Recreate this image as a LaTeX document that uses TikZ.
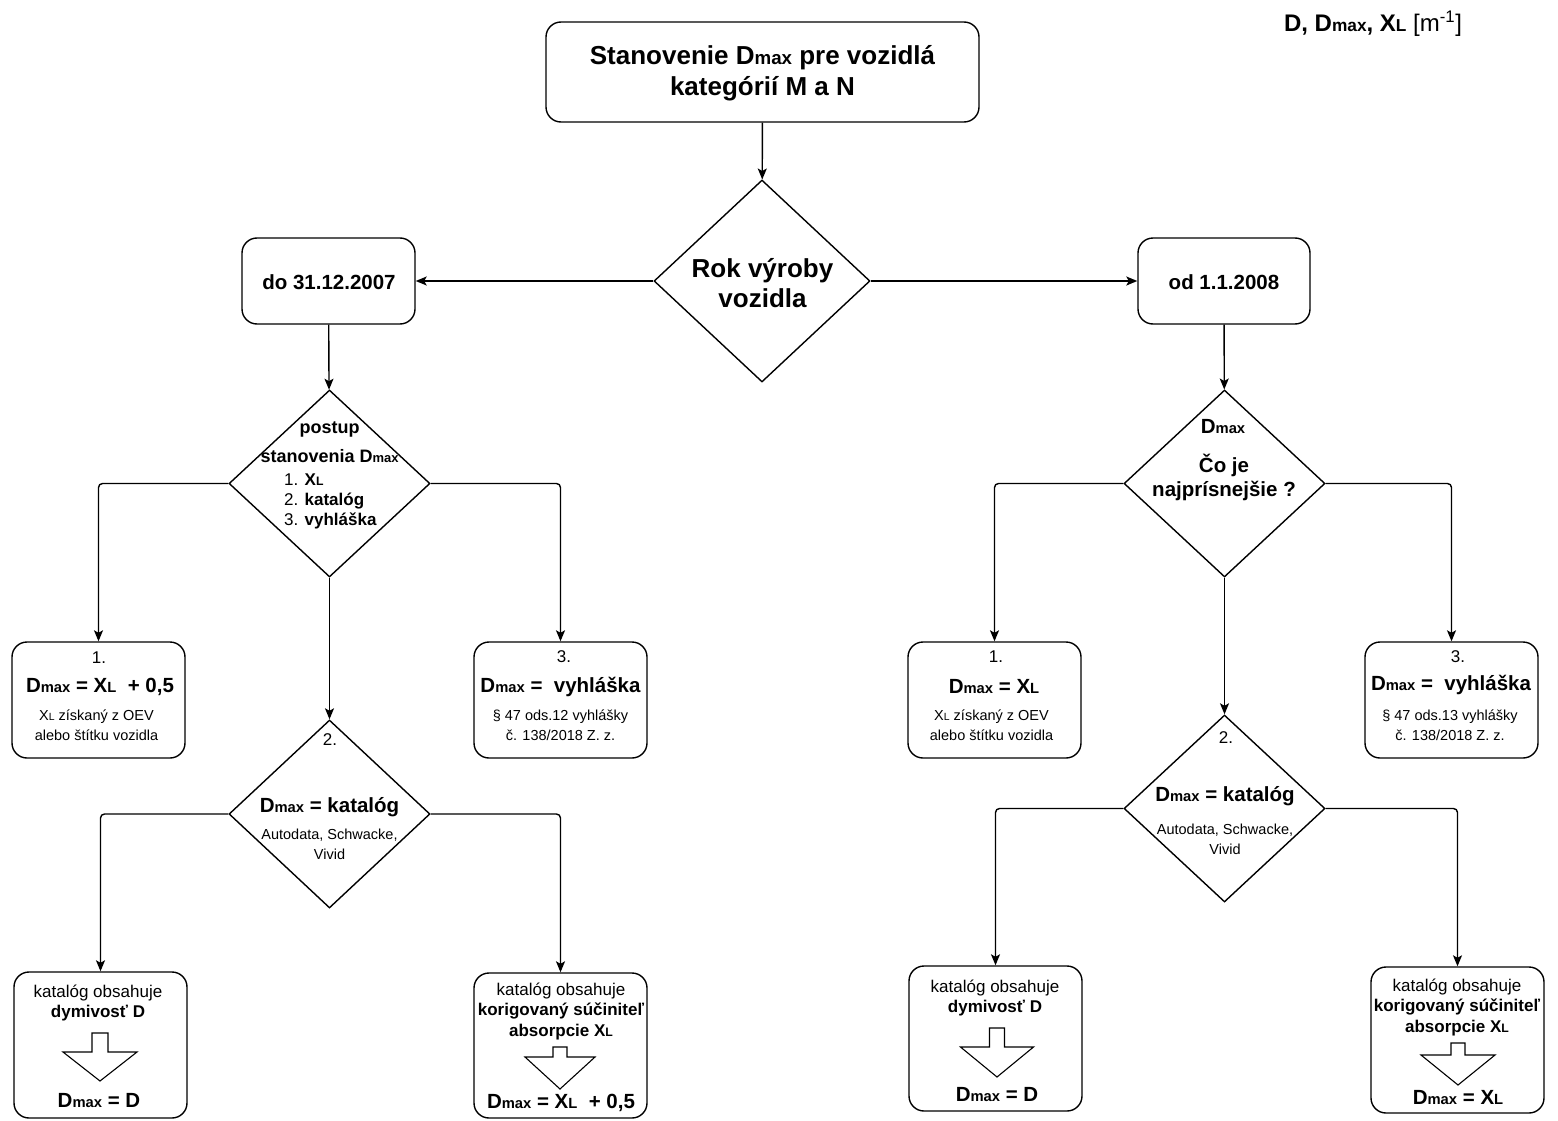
\documentclass[tikz,border=0pt]{standalone}
\usepackage{fontspec}
\setmainfont{Liberation Sans}
\usepackage{graphicx}
\usetikzlibrary{arrows.meta,positioning,shapes.geometric}
\newcommand{\Dmax}{D\scalebox{0.72}{max}}
\newcommand{\XL}{X\scalebox{0.72}{L}}
\begin{document}
\begin{tikzpicture}[
    x=1pt,y=-1pt,
    box/.style={draw=black,line width=1.4pt,rounded corners=15pt,minimum width=173pt,minimum height=116pt},
    dec/.style={draw=black,line width=1.4pt,diamond,inner sep=0pt,minimum width=201pt,minimum height=187pt},
    txt/.style={inner sep=0pt,align=center},
    arrow/.style={-{Stealth[length=11pt,width=9pt,inset=2.5pt]},line width=1.4pt,rounded corners=4pt},
    hollow/.style={draw=black,line width=1.1pt,line join=miter},
    big/.style={font=\fontsize{26}{31}\selectfont\bfseries},
    mid/.style={font=\fontsize{20.5}{24}\selectfont\bfseries},
    num/.style={font=\fontsize{17}{20}\selectfont},
    note/.style={font=\fontsize{14.5}{20}\selectfont},
    kat/.style={font=\fontsize{17}{20.5}\selectfont}
  ]
    \useasboundingbox (0,0) rectangle (1558,1121);
    \node[draw=black,line width=1.4pt,rounded corners=15pt,minimum width=433pt,minimum height=100pt] (title) at (762.5,72) {};
    \node[txt,big] (titletxt) at (762.5,73.5) {Stanovenie \Dmax{} pre vozidlá\\kategórií M a N};
    \node[txt,font=\fontsize{24}{28}\selectfont] (units) at (1373,24) {\textbf{D, \Dmax, \XL} [m\textsuperscript{-1}]};

    \node[dec,minimum width=216pt,minimum height=202pt] (rok) at (762,281) {};
    \node[txt,big,font=\fontsize{26}{30}\selectfont\bfseries] (roktxt) at (762.5,283) {Rok výroby\\vozidla};
    \node[box,minimum height=86pt] (do2007) at (328.5,281) {};
    \node[txt,mid] (dotxt) at (329,282) {do 31.12.2007};
    \node[box,minimum width=172pt,minimum height=86pt] (od2008) at (1224,281) {};
    \node[txt,mid] (odtxt) at (1224,282) {od 1.1.2008};

    \node[dec] (postup) at (329.5,483.5) {};
    \node[txt,font=\fontsize{18}{29}\selectfont\bfseries] (postuptxt) at (329.5,442.5) {postup\\stanovenia \Dmax};
    \node[txt,align=left,anchor=west,font=\fontsize{17}{20}\selectfont] (postuplist) at (284,501) {1. \textbf{\XL}\\2. \textbf{katalóg}\\3. \textbf{vyhláška}};
    \node[dec] (najq) at (1224.5,483.5) {};
    \node[txt,font=\fontsize{20.5}{24}\selectfont\bfseries] (najtop) at (1223,427) {\Dmax};
    \node[txt,mid] (najtxt) at (1224,477) {Čo je\\najprísnejšie ?};

    \node[box] (l1) at (98.5,700) {};
    \node[txt,num] (l1n) at (99,658) {1.};
    \node[txt,mid] (l1a) at (100,687) {\Dmax{} = \XL{}\ \ + 0,5};
    \node[txt,note] (l1b) at (96.5,725) {\XL{} získaný z OEV\\alebo štítku vozidla};
    \node[box] (l3) at (560.5,700) {};
    \node[txt,num] (l3n) at (564,657) {3.};
    \node[txt,mid] (l3a) at (560.5,686.5) {\Dmax{} =\ \ vyhláška};
    \node[txt,note] (l3b) at (560.5,725) {§ 47 ods.12 vyhlášky\\č. 138/2018 Z. z.};
    \node[box] (r1) at (994.5,700) {};
    \node[txt,num] (r1n) at (996,657) {1.};
    \node[txt,mid] (r1a) at (994,687) {\Dmax{} = \XL};
    \node[txt,note] (r1b) at (991.5,725) {\XL{} získaný z OEV\\alebo štítku vozidla};
    \node[box] (r3) at (1451.5,700) {};
    \node[txt,num] (r3n) at (1458,657) {3.};
    \node[txt,mid] (r3a) at (1451,685) {\Dmax{} =\ \ vyhláška};
    \node[txt,note] (r3b) at (1450,725) {§ 47 ods.13 vyhlášky\\č. 138/2018 Z. z.};

    \node[dec,minimum height=188pt] (lkat) at (329.5,814) {};
    \node[txt,num] (lkatn) at (330,740) {2.};
    \node[txt,mid] (lkata) at (329.5,807) {\Dmax{} = katalóg};
    \node[txt,note] (lkatb) at (329.5,844) {Autodata, Schwacke,\\Vivid};
    \node[dec] (rkat) at (1224.5,808.5) {};
    \node[txt,num] (rkatn) at (1226,738) {2.};
    \node[txt,mid] (rkata) at (1225,796) {\Dmax{} = katalóg};
    \node[txt,note] (rkatb) at (1225,839) {Autodata, Schwacke,\\Vivid};

    \node[box,minimum height=146pt] (lD) at (100.5,1045) {};
    \node[txt,kat] (lDa) at (98,1003) {katalóg obsahuje\\\textbf{dymivosť D}};
    \node[txt,mid] (lDb) at (99,1101) {\Dmax{} = D};
    \node[box,minimum height=145pt] (lX) at (560.5,1045.5) {};
    \node[txt,kat] (lXa) at (561,1011) {katalóg obsahuje\\\textbf{korigovaný súčiniteľ}\\\textbf{absorpcie \XL}};
    \node[txt,mid] (lXb) at (561,1103) {\Dmax{} = \XL{}\ \ + 0,5};
    \node[box,minimum height=145pt] (rD) at (995.5,1038.5) {};
    \node[txt,kat] (rDa) at (995,998) {katalóg obsahuje\\\textbf{dymivosť D}};
    \node[txt,mid] (rDb) at (997,1095) {\Dmax{} = D};
    \node[box,minimum height=146pt] (rX) at (1457.5,1040) {};
    \node[txt,kat] (rXa) at (1457,1007) {katalóg obsahuje\\\textbf{korigovaný súčiniteľ}\\\textbf{absorpcie \XL}};
    \node[txt,mid] (rXb) at (1458,1098) {\Dmax{} = \XL};

    \foreach \ax/\at/\ah/\ab/\sw/\hw in {100/1033/1052/1081/8/37,560/1047/1057/1089/7/35,997/1028/1047/1077/7.5/36.5,1458/1043/1055/1085/7/37}
      \draw[hollow] ({\ax-\sw},\at) -- ({\ax+\sw},\at) -- ({\ax+\sw},\ah) -- ({\ax+\hw},\ah) -- (\ax,\ab) -- ({\ax-\hw},\ah) -- ({\ax-\sw},\ah) -- cycle;

    \draw[arrow] (title) -- (rok);
    \draw[arrow] (rok) -- (do2007);
    \draw[arrow] (rok) -- (od2008);
    \draw[arrow] (do2007) -- (postup);
    \draw[arrow] (od2008) -- (najq);
    \draw[arrow] (postup.west) -| (l1.north);
    \draw[arrow] (postup.east) -| (l3.north);
    \draw[arrow] (postup) -- (lkat);
    \draw[arrow] (najq.west) -| (r1.north);
    \draw[arrow] (najq.east) -| (r3.north);
    \draw[arrow] (najq) -- (rkat);
    \draw[arrow] (lkat.west) -| (lD.north);
    \draw[arrow] (lkat.east) -| (lX.north);
    \draw[arrow] (rkat.west) -| (rD.north);
    \draw[arrow] (rkat.east) -| (rX.north);
  \end{tikzpicture}
\end{document}
